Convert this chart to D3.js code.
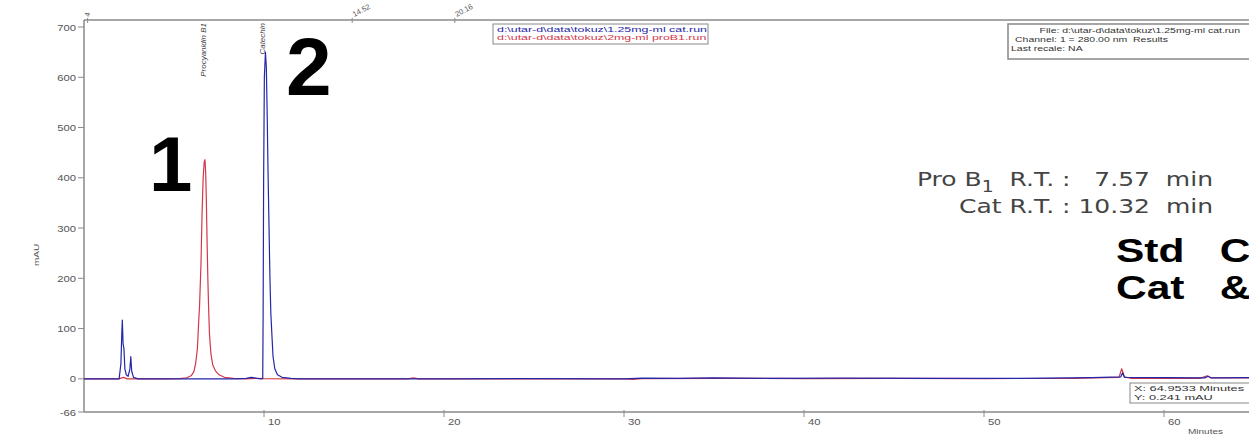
<!DOCTYPE html>
<meta charset="utf-8">
<script src="https://d3js.org/d3.v7.min.js"></script>
<style>
  body { margin: 0; background: #fff; }
  text { font-family: "Liberation Sans", Arial, sans-serif; }
</style>
<div id="chart"></div>
<script>
  var svgWidth = 1249, svgHeight = 439;

  // y ticks (mAU) and x ticks (minutes)
  const yTicks = [700, 600, 500, 400, 300, 200, 100, 0, -66];
  const xTicks = [10, 20, 30, 40, 50, 60];

  // chromatogram traces: [minutes, mAU]
  const redTrace = [
    [0, 0], [1.9, 0], [2.2, 3], [2.4, 0], [4.5, 0], [5.3, 0.5], [5.7, 2], [5.95, 6],
    [6.1, 14], [6.2, 30], [6.3, 60], [6.38, 120], [6.42, 145], [6.5, 230], [6.56, 330],
    [6.62, 400], [6.68, 432], [6.72, 436], [6.76, 410], [6.8, 350], [6.84, 270],
    [6.88, 200], [6.92, 145], [6.97, 90], [7.05, 50], [7.15, 28], [7.3, 16], [7.5, 8],
    [7.8, 3], [8.3, 1], [9.0, 0], [9.6, 1], [10.0, 0.5], [12, 0], [18, 0], [18.3, 2],
    [18.6, 0], [30, 0], [30.5, -1], [31, 0.5], [35, 1], [40, 0.5], [45, 1], [50, 0.5],
    [55, 1], [56, 2], [57.5, 3], [57.65, 20], [57.8, 4], [58.2, 1], [62, 1], [62.4, 6],
    [62.6, 2], [65, 2]
  ];
  const blueTrace = [
    [0, 0], [1.95, 0], [2.05, 30], [2.1, 90], [2.13, 117], [2.17, 70], [2.22, 60],
    [2.27, 20], [2.35, 8], [2.45, 5], [2.55, 20], [2.6, 44], [2.65, 15], [2.75, 3],
    [3.0, 0], [8.5, 0], [9.0, 1], [9.3, 3], [9.6, 1], [9.88, 0], [9.93, 2], [9.95, 120],
    [9.98, 400], [10.02, 600], [10.08, 650], [10.13, 620], [10.18, 520], [10.22, 420],
    [10.28, 300], [10.33, 200], [10.38, 130], [10.45, 80], [10.5, 45], [10.6, 20],
    [10.75, 8], [11.0, 3], [11.5, 1], [12, 0], [20, 0], [25, 0.5], [30, 0], [31, 1.5],
    [33, 1], [35, 2], [38, 1], [42, 1.5], [47, 1], [52, 1], [56, 2.5], [57.6, 4],
    [57.7, 12], [57.8, 3], [62.3, 2], [62.45, 5], [62.6, 2], [65, 2.5]
  ];

  // peak names on the top axis
  const peakNames = ["Procyanidin B1", "Catechin"];
  const peakTimes = [6.6, 9.9];
  // event marks above the top axis
  const eventLabels = ["4", "14.52", "20.16"];
  const eventTimes = [0.2, 14.9, 20.6];

  const legendFiles = ["d:\\utar-d\\data\\tokuz\\1.25mg-ml cat.run", "d:\\utar-d\\data\\tokuz\\2mg-ml proB1.run"];
  const traceColors = ["#2626a8", "#d23848"];

  const infoLines = ["File: d:\\utar-d\\data\\tokuz\\1.25mg-ml cat.run", "Channel: 1 = 280.00 nm  Results", "Last recale: NA"];
  const cursorLines = ["X: 64.9533 Minutes", "Y: 0.241 mAU"];

  const margin = { top: 20, left: 84, bottom: 27 };

  const x = d3.scaleLinear().domain([0, 65]).range([margin.left, margin.left + 65 * 18]);
  const y = d3.scaleLinear().domain([-66, 714]).range([svgHeight - margin.bottom, margin.top]);

  const svg = d3.select("#chart").append("svg")
    .attr("width", svgWidth)
    .attr("height", svgHeight);

  // text in the scanned picture is stretched sideways
  function stext(g, px, py, str, sx) {
    return g.append("text")
      .attr("transform", `translate(${px},${py}) scale(${sx || 1.25},1)`)
      .attr("xml:space", "preserve")
      .text(str);
  }

  const axisColor = "#8a8a8a";

  // frame lines
  svg.append("line").attr("x1", x(0)).attr("x2", svgWidth).attr("y1", y(714)).attr("y2", y(714))
    .attr("stroke", axisColor).attr("stroke-width", 1.5);
  svg.append("line").attr("x1", x(0)).attr("x2", svgWidth).attr("y1", y(-66)).attr("y2", y(-66))
    .attr("stroke", axisColor).attr("stroke-width", 1.5);
  svg.append("line").attr("x1", x(0)).attr("x2", x(0)).attr("y1", y(714)).attr("y2", y(-66))
    .attr("stroke", axisColor).attr("stroke-width", 1.5);

  // y ticks
  const yg = svg.append("g");
  yTicks.forEach(function (v) {
    yg.append("line").attr("x1", x(0) - 6).attr("x2", x(0)).attr("y1", y(v)).attr("y2", y(v))
      .attr("stroke", axisColor);
    stext(yg, x(0) - 8, y(v) + 3.5, String(v))
      .attr("text-anchor", "end").attr("font-size", 9).attr("fill", "#555");
  });
  svg.append("text")
    .attr("transform", "translate(39,255) rotate(-90) scale(1.25,1)")
    .attr("text-anchor", "middle").attr("font-size", 8).attr("fill", "#555")
    .text("mAU");

  // x ticks
  const xg = svg.append("g");
  xTicks.forEach(function (v) {
    xg.append("line").attr("x1", x(v)).attr("x2", x(v)).attr("y1", y(-66) - 2).attr("y2", y(-66) + 5)
      .attr("stroke", axisColor);
    stext(xg, x(v) + 4, y(-66) + 13, String(v)).attr("font-size", 9).attr("fill", "#555");
  });
  stext(svg, 1188, 434, "Minutes").attr("font-size", 8).attr("fill", "#555");

  // top events
  eventTimes.forEach(function (t, i) {
    svg.append("line").attr("x1", x(t)).attr("x2", x(t)).attr("y1", y(714) - 2).attr("y2", y(714) + 3)
      .attr("stroke", axisColor);
    svg.append("text")
      .attr("transform", `translate(${x(t) + 2},${y(714) - 3}) rotate(${i === 0 ? -80 : -28})`)
      .attr("font-size", 7.5).attr("fill", "#555")
      .text(eventLabels[i]);
  });

  // peak names
  peakNames.forEach(function (n, i) {
    svg.append("text")
      .attr("transform", `translate(${x(peakTimes[i]) + 3},${y(714) + 3}) rotate(-90)`)
      .attr("text-anchor", "end").attr("font-size", 8).attr("font-style", "italic").attr("fill", "#444")
      .text(n);
  });

  // traces
  const line = d3.line().x(d => x(d[0])).y(d => y(d[1]));
  [redTrace, blueTrace].forEach(function (tr, i) {
    svg.append("path").datum(tr)
      .attr("d", line)
      .attr("fill", "none")
      .attr("stroke", traceColors[1 - i])
      .attr("stroke-width", 1.2)
      .attr("stroke-linejoin", "round");
  });

  // legend box
  const lg = svg.append("g");
  lg.append("rect").attr("x", 493).attr("y", 24).attr("width", 215).attr("height", 20)
    .attr("fill", "#fff").attr("stroke", "#888");
  legendFiles.forEach(function (f, i) {
    stext(lg, 497, 32 + i * 8, f, 1.55).attr("font-size", 8).attr("fill", traceColors[i]);
  });

  // info box top right
  const ig = svg.append("g");
  ig.append("rect").attr("x", 1008).attr("y", 24).attr("width", 250).attr("height", 35)
    .attr("fill", "#fff").attr("stroke", "#888").attr("stroke-width", 1.5);
  stext(ig, 1240, 33, infoLines[0], 1.4).attr("text-anchor", "end").attr("font-size", 7.5).attr("fill", "#333");
  stext(ig, 1015, 42, infoLines[1], 1.4).attr("font-size", 7.5).attr("fill", "#333");
  stext(ig, 1011, 51, infoLines[2], 1.4).attr("font-size", 7.5).attr("fill", "#333");

  // cursor box bottom right
  const cg = svg.append("g");
  cg.append("rect").attr("x", 1130).attr("y", 383).attr("width", 130).attr("height", 20)
    .attr("fill", "#fff").attr("stroke", "#888");
  cursorLines.forEach(function (c, i) {
    stext(cg, 1134, 391 + i * 9, c, 1.6).attr("font-size", 8).attr("fill", "#333");
  });

  // peak numbers
  stext(svg, 149, 191, "1", 1.0).attr("font-size", 78).attr("font-weight", "bold").attr("fill", "#000");
  stext(svg, 286, 95, "2", 1.0).attr("font-size", 82).attr("font-weight", "bold").attr("fill", "#000");

  // retention times
  const rt = svg.append("g").attr("fill", "#444");
  const t1 = rt.append("text").attr("transform", "translate(1213,186) scale(1.25,1)")
    .attr("text-anchor", "end").attr("font-size", 20).attr("xml:space", "preserve")
    .style("font-family", "DejaVu Sans, Verdana, sans-serif");
  t1.append("tspan").text("Pro B");
  t1.append("tspan").attr("dy", 6).attr("font-size", 15).text("1");
  t1.append("tspan").attr("dy", -6).text("  R.T. :   7.57  min");
  stext(rt, 1213, 213, "Cat R.T. : 10.32  min").attr("text-anchor", "end").attr("font-size", 20)
    .style("font-family", "DejaVu Sans, Verdana, sans-serif");

  // title (runs past the right edge, as in the picture)
  stext(svg, 1116, 262, "Std   Chromatogram").attr("font-size", 34).attr("font-weight", "bold").attr("fill", "#000");
  stext(svg, 1116, 299, "Cat   & Pro B1").attr("font-size", 34).attr("font-weight", "bold").attr("fill", "#000");
</script>
